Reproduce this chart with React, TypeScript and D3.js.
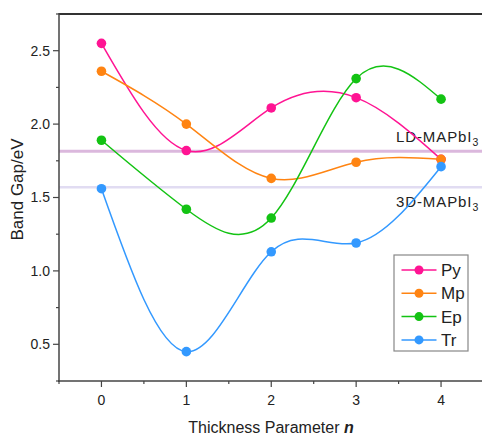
import React from "react";
import * as d3 from "d3";

const thickness = [0, 1, 2, 3, 4];
const pyValues = [2.55, 1.82, 2.11, 2.18, 1.76];
const mpValues = [2.36, 2.0, 1.63, 1.74, 1.76];
const epValues = [1.89, 1.42, 1.36, 2.31, 2.17];
const trValues = [1.56, 0.45, 1.13, 1.19, 1.71];
const seriesNames = ["Py", "Mp", "Ep", "Tr"];
const seriesColors = ["#ff1493", "#ff8412", "#13c313", "#3399ff"];
const yTicks = [0.5, 1.0, 1.5, 2.0, 2.5];
const yMinorTicks = [0.25, 0.75, 1.25, 1.75, 2.25, 2.75];
const xMinorTicks = [-0.5, 0.5, 1.5, 2.5, 3.5, 4.5];
const ldValue = 1.815;
const d3Value = 1.57;

export default function App() {
  const W = 482, H = 436;
  const left = 59, top = 14, bottom = 381, right = 483.5;
  const x = d3.scaleLinear().domain([-0.5, 4.5]).range([left, right]);
  const y = d3.scaleLinear().domain([0.25, 2.75]).range([bottom, top]);
  const allSeries = [pyValues, mpValues, epValues, trValues];
  const line = d3
    .line<number>()
    .x((_, i) => x(thickness[i]))
    .y((d) => y(d))
    .curve(d3.curveNatural);
  const axisColor = "#444";
  const font = "Liberation Sans, Arial, sans-serif";
  const legendX = 394, legendY = 255;
  return (
    <svg
      width={W}
      height={H}
      style={{ position: "absolute", left: 0, top: 0, background: "#fff" }}
      fontFamily={font}
    >
      <defs>
        <clipPath id="plot">
          <rect x={left} y={top} width={W - left} height={bottom - top} />
        </clipPath>
      </defs>
      {/* reference lines */}
      <line x1={left} x2={W} y1={y(ldValue)} y2={y(ldValue)} stroke="#dbb8dd" strokeWidth={3} />
      <line x1={left} x2={W} y1={y(d3Value)} y2={y(d3Value)} stroke="#e1dcf2" strokeWidth={2.5} />
      <text x={396} y={y(ldValue) - 9} fontSize={15} letterSpacing={0.9} fill="#222">
        LD-MAPbI<tspan fontSize={10.5} dy={4}>3</tspan>
      </text>
      <text x={396} y={y(d3Value) + 20} fontSize={15} letterSpacing={0.9} fill="#222">
        3D-MAPbI<tspan fontSize={10.5} dy={4}>3</tspan>
      </text>
      {/* series */}
      <g clipPath="url(#plot)">
        {allSeries.map((vals, si) => (
          <g key={si}>
            <path d={line(vals) || ""} fill="none" stroke={seriesColors[si]} strokeWidth={1.5} />
            {vals.map((v, i) => (
              <circle key={i} cx={x(thickness[i])} cy={y(v)} r={4.8} fill={seriesColors[si]} />
            ))}
          </g>
        ))}
      </g>
      {/* axes */}
      <line x1={left} x2={W} y1={top} y2={top} stroke="#333" strokeWidth={2} />
      <line x1={left} x2={left} y1={top - 1} y2={bottom + 1} stroke={axisColor} strokeWidth={1.5} />
      <line x1={left - 1} x2={W} y1={bottom} y2={bottom} stroke={axisColor} strokeWidth={1.5} />
      {yTicks.map((t) => (
        <g key={t}>
          <line x1={left - 6} x2={left} y1={y(t)} y2={y(t)} stroke={axisColor} strokeWidth={1.2} />
          <text x={left - 9} y={y(t)} dy="0.35em" textAnchor="end" fontSize={14} fill="#222">
            {t.toFixed(1)}
          </text>
        </g>
      ))}
      {yMinorTicks.map((t) => (
        <line key={t} x1={left - 3} x2={left} y1={y(t)} y2={y(t)} stroke={axisColor} strokeWidth={1.2} />
      ))}
      {thickness.map((t) => (
        <g key={t}>
          <line x1={x(t)} x2={x(t)} y1={bottom} y2={bottom + 6} stroke={axisColor} strokeWidth={1.2} />
          <text x={x(t)} y={bottom + 24} textAnchor="middle" fontSize={14} fill="#222">
            {t}
          </text>
        </g>
      ))}
      {xMinorTicks.map((t) => (
        <line key={t} x1={x(t)} x2={x(t)} y1={bottom} y2={bottom + 3} stroke={axisColor} strokeWidth={1.2} />
      ))}
      <text x={271} y={433} textAnchor="middle" fontSize={16} fill="#222">
        Thickness Parameter <tspan fontWeight="bold" fontStyle="italic">n</tspan>
      </text>
      <text
        transform={`translate(23, ${(top + bottom) / 2 - 8}) rotate(-90)`}
        textAnchor="middle"
        fontSize={17}
        fill="#222"
      >
        Band Gap/eV
      </text>
      {/* legend */}
      <rect x={legendX} y={legendY} width={74} height={96} fill="#fff" stroke="#888" strokeWidth={1.2} />
      {seriesNames.map((name, i) => {
        const cy = legendY + 15 + i * 23.3;
        return (
          <g key={name}>
            <line x1={401.5} x2={436.5} y1={cy} y2={cy} stroke={seriesColors[i]} strokeWidth={1.5} />
            <circle cx={419} cy={cy} r={4.5} fill={seriesColors[i]} />
            <text x={441} y={cy} dy="0.35em" fontSize={17} fill="#222">
              {name}
            </text>
          </g>
        );
      })}
    </svg>
  );
}
